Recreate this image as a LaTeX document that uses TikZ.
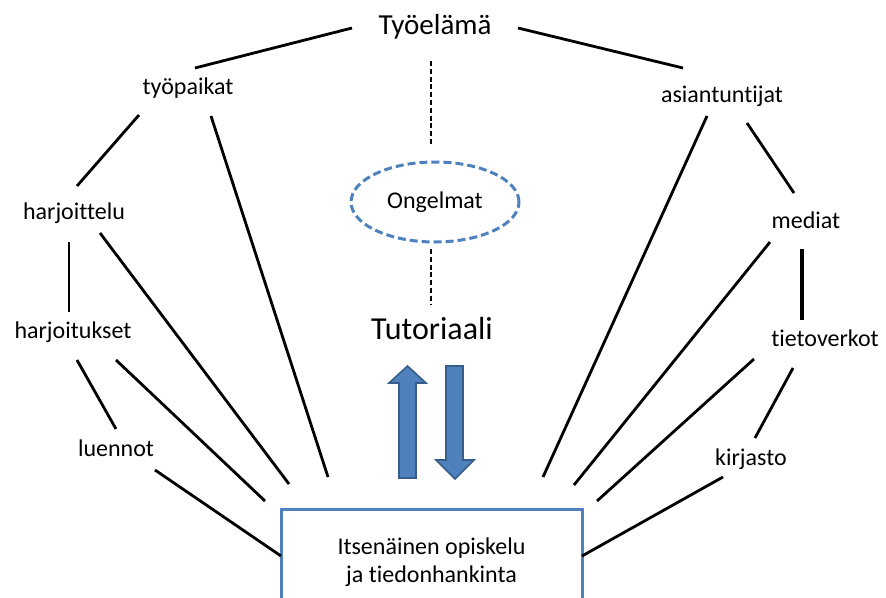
\documentclass[tikz,border=0pt]{standalone}
\usepackage{fontspec}
\setmainfont[Ligatures={NoCommon}]{Carlito}
\usetikzlibrary{shapes.geometric}
\definecolor{officeblue}{HTML}{4F81BD}
\definecolor{officeblueedge}{HTML}{385D8A}
\begin{document}
\begin{tikzpicture}[x=1pt,y=-1pt,
  label/.style={inner sep=0pt, font=\fontsize{24}{28}\selectfont},
  link/.style={line width=2.8pt, black},
  heavylink/.style={line width=4.2pt, black},
  dashlink/.style={line width=2.8pt, black, dash pattern=on 5pt off 2.8pt},
  bigarrow/.style={fill=officeblue, draw=officeblueedge, line width=1.6pt, line join=miter}]
\useasboundingbox (0,0) rectangle (886,597);

% central column
\node[label, font=\fontsize{29}{34}\selectfont] (tyoelama) at (435,27) {Työelämä};
\node[label, font=\fontsize{32}{38}\selectfont] (tutoriaali) at (432,329) {Tutoriaali};
\node[label, ellipse, draw=officeblue, line width=3pt, dash pattern=on 8pt off 4pt,
      minimum width=168pt, minimum height=80pt] (ongelmat) at (435,202) {Ongelmat};
\node[label, draw=officeblue, line width=3pt, minimum width=301pt, minimum height=106pt,
      align=center] (opiskelu) at (431.5,562) {Itsenäinen opiskelu\\ja tiedonhankinta};

% left branch
\node[label] (tyopaikat) at (188,88) {työpaikat};
\node[label] (harjoittelu) at (74,213) {harjoittelu};
\node[label] (harjoitukset) at (73,332) {harjoitukset};
\node[label] (luennot) at (116,448) {luennot};

% right branch
\node[label] (asiantuntijat) at (722,96) {asiantuntijat};
\node[label] (mediat) at (806,220) {mediat};
\node[label] (tietoverkot) at (825,338) {tietoverkot};
\node[label] (kirjasto) at (751,459) {kirjasto};

% line end points (the links stop short of the labels)
\coordinate (t-l) at (352,28);   \coordinate (tp-t) at (195,68);
\coordinate (t-r) at (518,28);   \coordinate (as-t) at (683,68);
\coordinate (t-d) at (431,61);   \coordinate (on-u) at (431,146);
\coordinate (on-d) at (431,249); \coordinate (tu-u) at (431,304);
\coordinate (tp-l) at (139,115); \coordinate (ha-u) at (77,186);
\coordinate (tp-r) at (211,116); \coordinate (op-1) at (328,477);
\coordinate (ha-d) at (69,242);  \coordinate (hs-u) at (69,312);
\coordinate (ha-r) at (100,233); \coordinate (op-2) at (289,484);
\coordinate (hs-d) at (77,360);  \coordinate (lu-u) at (116,429);
\coordinate (hs-r) at (116,360); \coordinate (op-3) at (265,501);
\coordinate (lu-r) at (155,470); \coordinate (op-4) at (281,556);
\coordinate (as-l) at (707,116); \coordinate (op-5) at (543,477);
\coordinate (as-d) at (747,123); \coordinate (me-u) at (794,193);
\coordinate (me-d) at (802,249); \coordinate (tv-u) at (802,320);
\coordinate (me-l) at (770,242); \coordinate (op-6) at (574,485);
\coordinate (tv-l) at (754,359); \coordinate (op-7) at (597,501);
\coordinate (tv-d) at (793,368); \coordinate (ki-u) at (755,438);
\coordinate (ki-l) at (723,477); \coordinate (op-8) at (582,556);

% links
\draw[link] (t-l) -- (tp-t);
\draw[link] (t-r) -- (as-t);
\draw[dashlink] (t-d) -- (on-u);
\draw[dashlink] (on-d) -- (tu-u);
\draw[link] (tp-l) -- (ha-u);
\draw[link] (tp-r) -- (op-1);
\draw[link] (ha-d) -- (hs-u);
\draw[link] (ha-r) -- (op-2);
\draw[link] (hs-d) -- (lu-u);
\draw[link] (hs-r) -- (op-3);
\draw[link] (lu-r) -- (op-4);
\draw[link] (as-l) -- (op-5);
\draw[link] (as-d) -- (me-u);
\draw[heavylink] (me-d) -- (tv-u);
\draw[link] (me-l) -- (op-6);
\draw[link] (tv-l) -- (op-7);
\draw[link] (tv-d) -- (ki-u);
\draw[link] (ki-l) -- (op-8);

% block arrows between the tutorial and self-study
\draw[bigarrow] (407.5,366) -- (426,383) -- (416,383) -- (416,478) -- (399,478)
  -- (399,383) -- (389,383) -- cycle;
\draw[bigarrow] (446,366) -- (463,366) -- (463,460) -- (474,460) -- (455,479)
  -- (436,460) -- (446,460) -- cycle;
\end{tikzpicture}
\end{document}
